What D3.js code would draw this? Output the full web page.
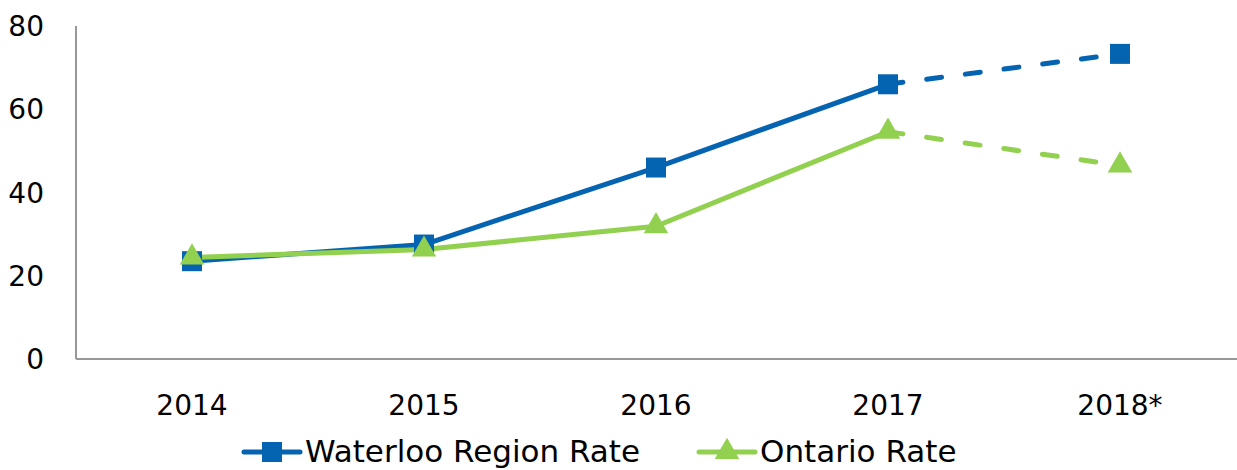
<!DOCTYPE html>
<html>
<head>
<meta charset="utf-8">
<script src="https://cdn.jsdelivr.net/npm/d3@7"></script>
<style>
  body { margin: 0; background: #fff; }
  text { font-family: "DejaVu Sans", sans-serif; fill: #000; }
</style>
</head>
<body>
<div id="chart"></div>
<script>
// chart values
var years = ["2014", "2015", "2016", "2017", "2018*"];
var waterloo = [23.5, 27.5, 46, 66, 73.3];
var ontario = [24.4, 26.3, 31.9, 54.6, 46.5];
var yTicks = [0, 20, 40, 60, 80];
var seriesNames = ["Waterloo Region Rate", "Ontario Rate"];

var blue = "#0564b2", green = "#92d050";

var width = 1237, height = 470;
var margin = {top: 26, right: 0, bottom: 111, left: 76};
var w = width - margin.left - margin.right, h = height - margin.top - margin.bottom;

var svg = d3.select("#chart").append("svg")
    .attr("width", width).attr("height", height);
var g = svg.append("g")
    .attr("transform", "translate(" + margin.left + "," + margin.top + ")");

var xScale = d3.scaleBand().domain(years).range([0, w - 1]);
var yScale = d3.scaleLinear().domain([0, 80]).range([h, 0]);

// y axis labels
g.selectAll(".ylab").data(yTicks).enter().append("text")
    .attr("class", "ylab")
    .attr("x", -32)
    .attr("y", function(d){ return yScale(d); })
    .attr("dy", "0.36em")
    .attr("text-anchor", "end")
    .style("font-size", "28px")
    .text(function(d){ return d; });

// axis lines
g.append("line").attr("x1", 0).attr("x2", 0).attr("y1", 0).attr("y2", h)
    .style("stroke", "#989898").style("stroke-width", 2);
g.append("line").attr("x1", 0).attr("x2", w).attr("y1", h).attr("y2", h)
    .style("stroke", "#989898").style("stroke-width", 2);

// x labels
g.selectAll(".xlab").data(years).enter().append("text")
    .attr("class", "xlab")
    .attr("x", function(d){ return xScale(d) + xScale.bandwidth() / 2; })
    .attr("y", h + 46)
    .attr("dy", "0.36em")
    .attr("text-anchor", "middle")
    .style("font-size", "28px")
    .text(function(d){ return d; });

var line = d3.line()
    .x(function(d){ return xScale(d.year) + xScale.bandwidth() / 2; })
    .y(function(d){ return yScale(d.value); });

function toPoints(vals){
    return years.map(function(y, i){ return {year: y, value: vals[i]}; });
}

var series = [
    {name: seriesNames[0], pts: toPoints(waterloo), color: blue, symbol: d3.symbolSquare, size: 400},
    {name: seriesNames[1], pts: toPoints(ontario), color: green, symbol: d3.symbolTriangle, size: 260}
];

series.forEach(function(s){
    // solid part 2014-2017
    g.append("path").datum(s.pts.slice(0, 4))
        .attr("d", line)
        .style("fill", "none").style("stroke", s.color)
        .style("stroke-width", 5).style("stroke-linejoin", "round");
    // dashed projection 2017-2018*
    g.append("path").datum(s.pts.slice(3))
        .attr("d", line)
        .style("fill", "none").style("stroke", s.color)
        .style("stroke-width", 5).style("stroke-linecap", "round")
        .style("stroke-dasharray", "15,24");
});

series.forEach(function(s){
    g.selectAll(null).data(s.pts).enter().append("path")
        .attr("d", d3.symbol().type(s.symbol).size(s.size))
        .attr("transform", function(d){
            return "translate(" + (xScale(d.year) + xScale.bandwidth() / 2) + "," + yScale(d.value) + ")";
        })
        .style("fill", s.color);
});

// legend
var legendY = 452;
var legendX = [244, 699];
series.forEach(function(s, i){
    var lg = svg.append("g").attr("transform", "translate(" + legendX[i] + "," + legendY + ")");
    lg.append("line").attr("x1", 0).attr("x2", 56).attr("y1", 0).attr("y2", 0)
        .style("stroke", s.color).style("stroke-width", 5).style("stroke-linecap", "round");
    lg.append("path").attr("d", d3.symbol().type(s.symbol).size(s.size))
        .attr("transform", "translate(28,0)")
        .style("fill", s.color);
    lg.append("text").attr("x", 61).attr("y", -1).attr("dy", "0.36em")
        .style("font-size", "31px").text(s.name);
});
</script>
</body>
</html>
